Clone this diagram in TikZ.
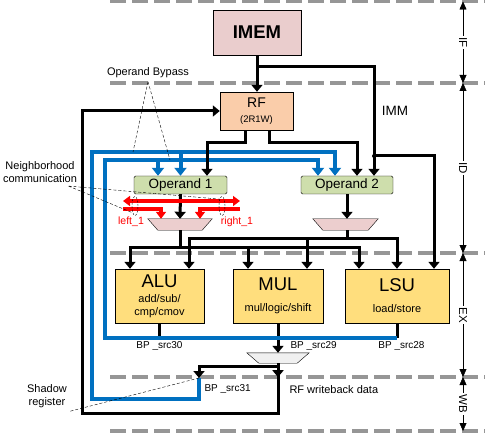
\documentclass[tikz,border=0pt]{standalone}
\usepackage{fontspec}
\setmainfont{Liberation Sans}
\usetikzlibrary{arrows.meta, shapes.geometric, positioning}
\definecolor{bpblue}{RGB}{0, 112, 192}
\definecolor{imemfill}{RGB}{234, 205, 205}
\definecolor{rffill}{RGB}{250, 205, 170}
\definecolor{opfill}{RGB}{206, 222, 172}
\definecolor{unitfill}{RGB}{255, 222, 125}
\definecolor{muxfill}{RGB}{236, 206, 206}
\definecolor{wbfill}{RGB}{240, 240, 240}
\definecolor{stagegray}{RGB}{150, 150, 150}
\tikzset{
    wire/.style={line width=3pt},
    wirearrow/.style={wire, -{Triangle[width=11pt, length=7pt]}},
    bypass/.style={draw=bpblue, line width=4pt},
    bparrow/.style={bypass, -{Triangle[width=12pt, length=8pt]}},
    nbr/.style={draw=red, line width=3.5pt},
    nbrarrow/.style={nbr, -{Triangle[width=10pt, length=7pt]}},
    stageline/.style={draw=stagegray, line width=3.5pt, dash pattern=on 16pt off 6pt},
    stagearrow/.style={thin, {Triangle[width=7pt, length=8pt]}-{Triangle[width=7pt, length=8pt]}},
    stagelabel/.style={rotate=-90, fill=white, inner sep=1.5pt, font=\fontsize{11.5}{12}\selectfont},
    callout/.style={thin, dash pattern=on 3pt off 2pt},
    block/.style={draw, thin, inner sep=0pt, align=center},
    opbox/.style={block, fill=opfill, rounded corners=1.5pt, minimum width=93pt,
        minimum height=18pt, font=\fontsize{13.5}{14}\selectfont},
    unitbox/.style={block, fill=unitfill, minimum width=89pt, minimum height=54pt,
        font=\fontsize{11}{13}\selectfont},
    muxbox/.style={inner sep=0pt, minimum width=64pt, minimum height=11pt},
    ring/.style={ellipse, draw, thin, dash pattern=on 2pt off 1.5pt, inner sep=0pt,
        minimum width=6pt, minimum height=19pt},
    note/.style={font=\fontsize{11}{13}\selectfont, align=center},
    bplabel/.style={font=\fontsize{10}{12}\selectfont},
    nbrlabel/.style={text=red, font=\fontsize{10.5}{12}\selectfont},
}
\newcommand{\unittitle}{\fontsize{18.5}{20}\selectfont}

\begin{document}
\begin{tikzpicture}[x=1pt, y=-1pt]
\useasboundingbox (0,0) rectangle (485,433);
% pipeline stages
\foreach \y in {1.5, 83, 253, 377, 431}
    \draw[stageline] (110,\y) -- (485,\y);
\foreach \ya/\yb/\stage in {1.5/83/IF, 83/253/ID, 253/377/EX, 377/431/WB}
    \draw[stagearrow] (463,\ya) -- (463,\yb) node[midway, stagelabel] {\stage};

% blocks
\node[block, fill=imemfill, minimum width=88pt, minimum height=45pt,
    font=\fontsize{18.5}{20}\selectfont\bfseries] (imem) at (257,32.5) {IMEM};
\node[block, fill=rffill, minimum width=73pt, minimum height=38pt,
    font=\fontsize{14}{14}\selectfont] (rf) at (256.5,111)
    {RF\\[1pt]{\fontsize{9.5}{10}\selectfont (2R1W)}};
\node[opbox] (op1) at (180.5,185) {Operand 1};
\node[opbox, minimum width=92pt] (op2) at (347,185) {Operand 2};
\node[muxbox] (mux1) at (180,224.5) {};
\node[muxbox, minimum width=65pt] (mux2) at (345.5,224.5) {};
\node[muxbox, minimum width=62pt, minimum height=10pt] (mux3) at (278,358) {};
\foreach \m/\inset/\tint in {mux1/10/muxfill, mux2/10/muxfill, mux3/12/wbfill}
    \draw[thin, fill=\tint] (\m.north west) -- (\m.north east)
        -- ([xshift=-\inset pt]\m.south east) -- ([xshift=\inset pt]\m.south west) -- cycle;
\node[unitbox] (alu) at (159.5,296) {{\unittitle ALU}\\[2pt]add/sub/\\cmp/cmov};
\node[unitbox, minimum width=90pt] (mul) at (278,296) {{\unittitle MUL}\\[8pt]mul/logic/shift};
\node[unitbox, minimum width=104pt] (lsu) at (397,296) {{\unittitle LSU}\\[8pt]load/store};

% execute outputs
\draw[wire] (alu.south) -- (alu.south |- 0,338);
\draw[wire] (lsu.south) -- (lsu.south |- 0,338);
\draw[wirearrow] (mul.south) -- (mux3.north);

% bypass network
\coordinate (shadow) at (199,378);
\coordinate (op1bp) at ([xshift=-22.5pt]op1.north);
\coordinate (op2bpa) at ([xshift=-29pt]op2.north);
\coordinate (op2bpb) at ([xshift=-12pt]op2.north);
\draw[bparrow] (shadow) -- ++(0,21) -| (92,152) -| (op2bpb);
\draw[bparrow] (op1.north |- 0,152) -- (op1.north);
\draw[bparrow] (lsu.south |- 0,338) -| (105,160) -| (op2bpa);
\draw[bparrow] (op1bp |- 0,160) -- (op1bp);

% fetch and register read
\path (imem.south) ++(0,11) coordinate (immtap);
\coordinate (immin) at ([xshift=27pt]op2.north);
\draw[wirearrow] (imem.south) -- (imem.south |- rf.north);
\draw[wirearrow] (immtap) -| (immin);
\draw[wirearrow] (immin |- 0,156) -| ([xshift=37pt]lsu.north);
\fill (immin |- 0,156) circle (2pt);
\draw[wirearrow] ([xshift=-11.5pt]rf.south) -- ++(0,12) -| ([xshift=26.5pt]op1.north);
\draw[wirearrow] ([xshift=12.5pt]rf.south) -- ++(0,12) -| ([xshift=10pt]op2.north);

% writeback
\coordinate (wbloop) at (82,413);
\draw[wirearrow] (mux3.south) -- ++(0,14);
\draw[wirearrow] (mux3.south) |- (wbloop) |- (rf.west);
\draw[wirearrow] (mux3.south) ++(0,3) -| (shadow);

% operand select
\draw[wirearrow] (op1.south) -- (mux1.north);
\draw[wirearrow] (op2.south) -- (op2.south |- mux2.north);
\path (mux1.south) ++(0,17) coordinate (busa);
\path (mux2.south -| op2.south) ++(0,8) coordinate (busb);
\draw[wire] (mux1.south) -- (busa);
\draw[wire] (mux2.south -| op2.south) -- (busb);
\draw[wirearrow] (busa) -| ([xshift=-29.5pt]alu.north);
\draw[wirearrow] (busa) -| ([xshift=-30pt]mul.north);
\draw[wirearrow] (busa) -| ([xshift=-38pt]lsu.north);
\draw[wirearrow] (busb) -| ([xshift=29.5pt]alu.north);
\draw[wirearrow] (busb) -| ([xshift=29pt]mul.north);
\draw[wirearrow] (busb) -| (lsu.north);

% neighbourhood links
\coordinate (nbrleft) at (123,209);
\coordinate (nbrright) at (240,209);
\draw[nbr, {Triangle[width=10pt, length=7pt]}-{Triangle[width=10pt, length=7pt]}]
    (nbrleft |- 0,201) -- (nbrright |- 0,201);
\draw[nbrarrow] (nbrleft) -| ([xshift=-19pt]mux1.north);
\draw[nbrarrow] (nbrright) -| ([xshift=20pt]mux1.north);
\node[ring] (ringl) at (135,206) {};
\node[ring] (ringr) at (222,206) {};
\node[nbrlabel] at (131,222) {left\_1};
\node[nbrlabel] at (237,222) {right\_1};

% notes
\node[note] (bypassnote) at (148,73) {Operand Bypass};
\draw[callout] (bypassnote.south) -- (133,152) (bypassnote.south) -- (170,160);
\node[note] (nbrnote) at (40,172) {Neighborhood\\communication};
\draw[callout] ([xshift=-12pt]nbrnote.south east) -- (ringl.south west)
    ([xshift=-12pt]nbrnote.south east) -- (ringr.north west);
\node[note] (shadownote) at (47,396) {Shadow\\register};
\draw[callout] (shadownote.south east) -- (shadow);
\node[note, anchor=west] (wbnote) at (286,390) {RF writeback data};
\node[note, font=\fontsize{13.5}{14}\selectfont] (immnote) at (395,111) {IMM};
\node[bplabel] at (159.5,346) {BP \_src30};
\node[bplabel, anchor=west] at (287,346) {BP \_src29};
\node[bplabel] at (401.5,346) {BP \_src28};
\node[bplabel, anchor=west] at (201,389) {BP \_src31};
\end{tikzpicture}
\end{document}
